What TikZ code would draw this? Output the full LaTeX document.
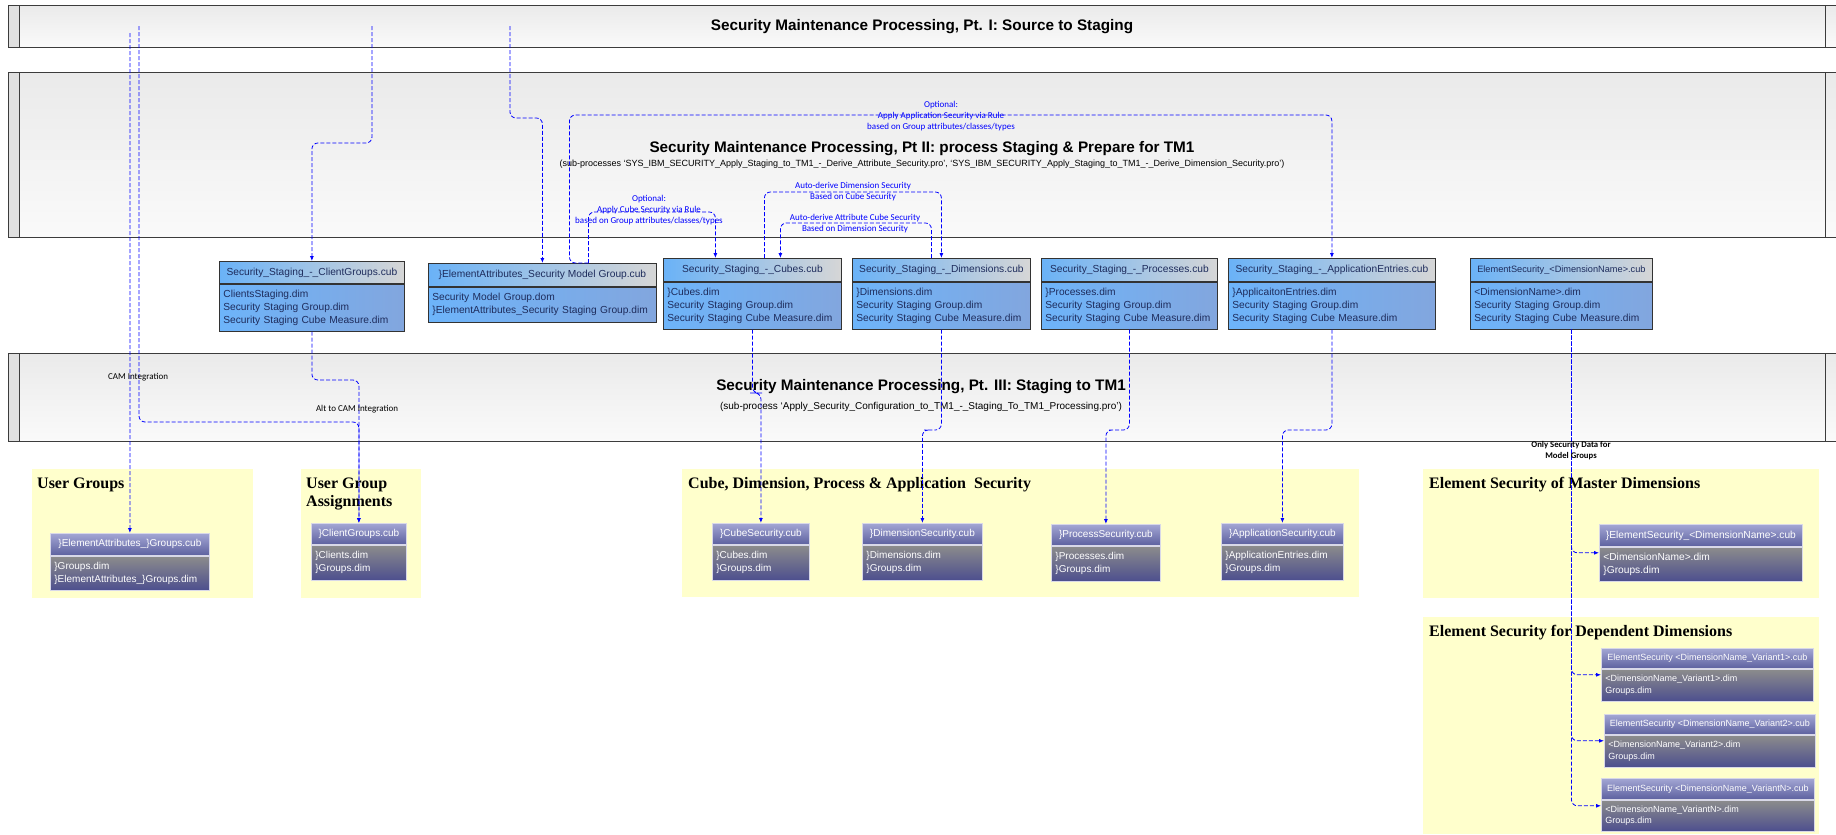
\documentclass[tikz,border=0pt]{standalone}
\usepackage{fontspec}
\setmainfont{Liberation Sans}
\newfontfamily\labelfont{Carlito}
\newfontfamily\areafont{Liberation Serif}
\usetikzlibrary{arrows.meta}

\definecolor{laneline}{HTML}{3C3C3C}
\definecolor{lanetop}{HTML}{EAEAEA}
\definecolor{lanebot}{HTML}{FAFAFA}
\definecolor{lanestrip}{HTML}{E0E0E0}
\definecolor{areafill}{HTML}{FFFFCC}
\definecolor{stgblue}{HTML}{6AB2F7}
\definecolor{stggray}{HTML}{D6D6D6}
\definecolor{stgbodyL}{HTML}{6DB4FA}
\definecolor{stgbodyR}{HTML}{82A6DE}
\definecolor{stgtext}{HTML}{1E2C5C}
\definecolor{boxline}{HTML}{333333}
\definecolor{bhdTop}{HTML}{A3A6D4}
\definecolor{bhdBot}{HTML}{5D619F}
\definecolor{bbdTop}{HTML}{8C8C8C}
\definecolor{bbdBot}{HTML}{4D4F8E}
\definecolor{bline}{HTML}{D8D8E8}
\definecolor{linkblue}{HTML}{0000FF}

\begin{document}
\begin{tikzpicture}[x=1pt, y=-1pt, every node/.style={inner sep=0pt}, >={Latex[length=5pt,width=4pt]},
	lane/.style={draw=laneline, line width=0.9pt, top color=lanetop, bottom color=lanebot},
	lanetitle/.style={font=\bfseries\fontsize{15.3}{18}\selectfont},
	lanesub/.style={font=\fontsize{9}{11}\selectfont},
	area/.style={fill=areafill},
	areatitle/.style={font=\areafont\bfseries\fontsize{16}{18}\selectfont, align=left, anchor=base west},
	stghead/.style={draw=boxline, line width=0.8pt, left color=stgblue, right color=stggray, text=stgtext, font=\fontsize{10.2}{13}\selectfont, minimum height=22pt, anchor=north west},
	stgbody/.style={draw=boxline, line width=0.8pt, left color=stgbodyL, right color=stgbodyR, text=stgtext, font=\fontsize{10.2}{13}\selectfont, align=left, inner xsep=4pt, anchor=north west},
	bhead/.style={draw=bline, line width=0.8pt, top color=bhdTop, bottom color=bhdBot, text=white, font=\fontsize{10}{13}\selectfont, minimum height=21pt, anchor=north west},
	bbody/.style={draw=bline, line width=0.8pt, top color=bbdTop, bottom color=bbdBot, text=white, font=\fontsize{10}{13}\selectfont, align=left, inner xsep=4pt, anchor=north west},
	conn/.style={->, linkblue, line width=0.8pt, dash pattern=on 4pt off 2pt, rounded corners=6pt},
	linklabel/.style={text=linkblue, font=\labelfont\fontsize{9}{11}\selectfont, align=center},
	notelabel/.style={font=\labelfont\fontsize{9}{11}\selectfont, align=center}]
	\useasboundingbox (0,0) rectangle (1836,835);
	\clip (0,0) rectangle (1836,835);
	\fill[white] (0,0) rectangle (1836,835);

	% swim lanes
	\draw[lane] (8,5) rectangle (1850,47);
	\draw[laneline, line width=0.9pt, fill=lanestrip] (8,5) rectangle (19,47);
	\draw[laneline, line width=0.9pt] (1825,5) -- (1825,47);
	\draw[lane] (8,72) rectangle (1850,237);
	\draw[laneline, line width=0.9pt, fill=lanestrip] (8,72) rectangle (19,237);
	\draw[laneline, line width=0.9pt] (1825,72) -- (1825,237);
	\draw[lane] (8,353) rectangle (1850,441);
	\draw[laneline, line width=0.9pt, fill=lanestrip] (8,353) rectangle (19,441);
	\draw[laneline, line width=0.9pt] (1825,353) -- (1825,441);

	\node[lanetitle] (t1) at (922,27) {Security Maintenance Processing, Pt. I: Source to Staging};
	\node[lanetitle] (t2) at (922,149) {Security Maintenance Processing, Pt II: process Staging \& Prepare for TM1};
	\node[lanesub] (s2) at (922,164) {(sub-processes ‘SYS\_IBM\_SECURITY\_Apply\_Staging\_to\_TM1\_-\_Derive\_Attribute\_Security.pro’, ‘SYS\_IBM\_SECURITY\_Apply\_Staging\_to\_TM1\_-\_Derive\_Dimension\_Security.pro’)};
	\node[lanetitle] (t3) at (921,387) {Security Maintenance Processing, Pt. III: Staging to TM1};
	\node[lanesub, font=\fontsize{10}{12}\selectfont] (s3) at (921,407) {(sub-process ‘Apply\_Security\_Configuration\_to\_TM1\_-\_Staging\_To\_TM1\_Processing.pro’)};

	% target areas
	\fill[area] (32,469) rectangle (253,598);
	\fill[area] (301,469) rectangle (421,598);
	\fill[area] (682,469) rectangle (1359,597);
	\fill[area] (1423,469) rectangle (1819,598);
	\fill[area] (1423,617) rectangle (1819,834);
	\node[areatitle] (a1) at (37,488) {User Groups};
	\node[areatitle] (a2) at (306,506) {User Group\\Assignments};
	\node[areatitle] (a3) at (688,488) {Cube, Dimension, Process \& Application~~Security};
	\node[areatitle] (a4) at (1429,488) {Element Security of Master Dimensions};
	\node[areatitle] (a5) at (1429,636) {Element Security for Dependent Dimensions};

	% staging cubes
	\node[stghead, minimum width=185pt] (cgH) at (219,261) {Security\_Staging\_-\_ClientGroups.cub};
	\node[stgbody, text width=177pt, minimum height=47pt] (cgB) at (cgH.south west) {ClientsStaging.dim\\Security Staging Group.dim\\Security Staging Cube Measure.dim};
	\node[stghead, minimum width=228pt, minimum height=23pt] (eaH) at (428,263) {\}ElementAttributes\_Security Model Group.cub};
	\node[stgbody, text width=220pt, minimum height=35pt] (eaB) at (eaH.south west) {Security Model Group.dom\\\}ElementAttributes\_Security Staging Group.dim};
	\node[stghead, minimum width=178pt, minimum height=23pt] (cuH) at (663,258) {Security\_Staging\_-\_Cubes.cub};
	\node[stgbody, text width=170pt, minimum height=47pt] (cuB) at (cuH.south west) {\}Cubes.dim\\Security Staging Group.dim\\Security Staging Cube Measure.dim};
	\node[stghead, minimum width=178pt, minimum height=23pt] (diH) at (852,258) {Security\_Staging\_-\_Dimensions.cub};
	\node[stgbody, text width=170pt, minimum height=47pt] (diB) at (diH.south west) {\}Dimensions.dim\\Security Staging Group.dim\\Security Staging Cube Measure.dim};
	\node[stghead, minimum width=176pt, minimum height=23pt] (prH) at (1041,258) {Security\_Staging\_-\_Processes.cub};
	\node[stgbody, text width=168pt, minimum height=47pt] (prB) at (prH.south west) {\}Processes.dim\\Security Staging Group.dim\\Security Staging Cube Measure.dim};
	\node[stghead, minimum width=207pt, minimum height=23pt] (apH) at (1228,258) {Security\_Staging\_-\_ApplicationEntries.cub};
	\node[stgbody, text width=199pt, minimum height=47pt] (apB) at (apH.south west) {\}ApplicaitonEntries.dim\\Security Staging Group.dim\\Security Staging Cube Measure.dim};
	\node[stghead, minimum width=182pt, minimum height=23pt, font=\fontsize{9.2}{13}\selectfont] (esH) at (1470,258) {ElementSecurity\_<DimensionName>.cub};
	\node[stgbody, text width=174pt, minimum height=47pt] (esB) at (esH.south west) {<DimensionName>.dim\\Security Staging Group.dim\\Security Staging Cube Measure.dim};

	% TM1 security cubes
	\node[bhead, minimum width=159pt, minimum height=22pt] (ugH) at (50,533) {\}ElementAttributes\_\}Groups.cub};
	\node[bbody, text width=151pt, minimum height=34pt] (ugB) at (ugH.south west) {\}Groups.dim\\\}ElementAttributes\_\}Groups.dim};
	\node[bhead, minimum width=95pt] (ugaH) at (311,523) {\}ClientGroups.cub};
	\node[bbody, text width=87pt, minimum height=35pt] (ugaB) at (ugaH.south west) {\}Clients.dim\\\}Groups.dim};
	\node[bhead, minimum width=97pt] (csH) at (712,523) {\}CubeSecurity.cub};
	\node[bbody, text width=89pt, minimum height=35pt] (csB) at (csH.south west) {\}Cubes.dim\\\}Groups.dim};
	\node[bhead, minimum width=120pt] (dsH) at (862,523) {\}DimensionSecurity.cub};
	\node[bbody, text width=112pt, minimum height=35pt] (dsB) at (dsH.south west) {\}Dimensions.dim\\\}Groups.dim};
	\node[bhead, minimum width=109pt] (psH) at (1051,524) {\}ProcessSecurity.cub};
	\node[bbody, text width=101pt, minimum height=35pt] (psB) at (psH.south west) {\}Processes.dim\\\}Groups.dim};
	\node[bhead, minimum width=122pt] (asH) at (1221,523) {\}ApplicationSecurity.cub};
	\node[bbody, text width=114pt, minimum height=35pt] (asB) at (asH.south west) {\}ApplicationEntries.dim\\\}Groups.dim};
	\node[bhead, minimum width=203pt, minimum height=22pt, font=\fontsize{10.2}{13}\selectfont] (esmH) at (1599,524) {\}ElementSecurity\_<DimensionName>.cub};
	\node[bbody, text width=195pt, minimum height=34pt, font=\fontsize{10.2}{13}\selectfont] (esmB) at (esmH.south west) {<DimensionName>.dim\\\}Groups.dim};
	\node[bhead, minimum width=212pt, minimum height=20pt, font=\fontsize{9}{11.5}\selectfont] (v1H) at (1601,648) {ElementSecurity <DimensionName\_Variant1>.cub};
	\node[bbody, text width=204pt, minimum height=32pt, font=\fontsize{9}{11.5}\selectfont] (v1B) at (v1H.south west) {<DimensionName\_Variant1>.dim\\Groups.dim};
	\node[bhead, minimum width=211pt, minimum height=20pt, font=\fontsize{9}{11.5}\selectfont] (v2H) at (1604,714) {ElementSecurity <DimensionName\_Variant2>.cub};
	\node[bbody, text width=203pt, minimum height=32pt, font=\fontsize{9}{11.5}\selectfont] (v2B) at (v2H.south west) {<DimensionName\_Variant2>.dim\\Groups.dim};
	\node[bhead, minimum width=213pt, minimum height=21pt, font=\fontsize{9}{11.5}\selectfont] (vNH) at (1601,778) {ElementSecurity <DimensionName\_VariantN>.cub};
	\node[bbody, text width=205pt, minimum height=31pt, font=\fontsize{9}{11.5}\selectfont] (vNB) at (vNH.south west) {<DimensionName\_VariantN>.dim\\Groups.dim};

	% data flows
	\coordinate (srcA) at (130,33);
	\coordinate (srcB) at (139,26);
	\coordinate (srcC) at (372,26);
	\coordinate (srcD) at (510,26);
	\draw[conn] (srcA) -- (ugH.north);
	\draw[conn] (srcB) |- (250,422) -| (ugaH.north);
	\draw[conn] (cgB.south) |- (330,380) -| (ugaH.north);
	\draw[conn] (srcC) |- (340,143) -| (cgH.north);
	\draw[conn] (srcD) |- (525,118) -| (eaH.north);
	\draw[conn] ([xshift=46pt]eaH.north) -- ([xshift=27pt]eaH.north) |- (900,115) -| (apH.north);
	\draw[conn] ([xshift=46pt]eaH.north) |- (650,212) -| ([xshift=-37pt]cuH.north);
	\draw[conn] ([xshift=12pt]cuH.north) |- (850,192) -| (diH.north);
	\draw[conn] ([xshift=-10pt]diH.north) |- (850,223) -| ([xshift=28pt]cuH.north);
	\draw[conn] (cuB.south) |- (756,393) -| (csH.north);
	\draw[conn] (diB.south) |- (930,430) -| (dsH.north);
	\draw[conn] (prB.south) |- (1115,430) -| (psH.north);
	\draw[conn] (apB.south) |- (1300,430) -| (asH.north);
	\draw[conn] ([xshift=10pt]esB.south) |- ([yshift=-6pt]esmB.north west);
	\draw[conn] ([xshift=10pt]esB.south) |- ([yshift=-6pt]v1B.north west);
	\draw[conn] ([xshift=10pt]esB.south) |- ([yshift=-6pt]v2B.north west);
	\draw[conn] ([xshift=10pt]esB.south) |- ([yshift=-6pt]vNB.north west);

	\node[linklabel] (lblApp) at (941,116) {Optional:\\Apply Application Security via Rule\\based on Group attributes/classes/types};
	\node[linklabel] (lblCube) at (649,210.5) {Optional:\\Apply Cube Security via Rule\\based on Group attributes/classes/types};
	\node[linklabel] (lblDim) at (853,191.5) {Auto-derive Dimension Security\\Based on Cube Security};
	\node[linklabel] (lblAttr) at (855,223.5) {Auto-derive Attribute Cube Security\\Based on Dimension Security};
	\node[notelabel] (lblCam) at (138,377) {CAM Integration};
	\node[notelabel] (lblAlt) at (357,409) {Alt to CAM Integration};
	\node[notelabel, font=\labelfont\bfseries\fontsize{8.7}{11}\selectfont] (lblOnly) at (1571,450.5) {Only Security Data for\\Model Groups};
\end{tikzpicture}
\end{document}
